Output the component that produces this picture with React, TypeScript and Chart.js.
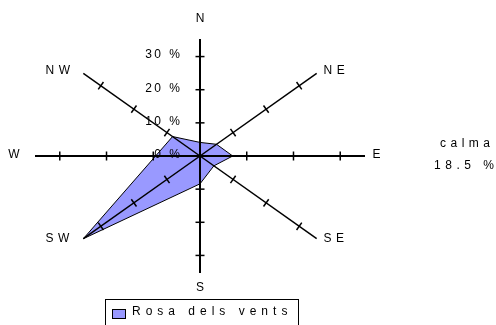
import React, { useEffect, useRef } from "react";
import { Chart, registerables } from "chart.js";

Chart.register(...registerables);

// ---- data ----
const directions = ["N", "NE", "E", "SE", "S", "SW", "W", "NW"];
const windValues = [4.1, 5.0, 7.0, 4.2, 8.4, 35.3, 9.5, 8.3];
const axisMax = 35.3;
const tickValues = [0, 10, 20, 30];
const tickLabels = ["0 %", "10 %", "20 %", "30 %"];
const seriesLabel = "Rosa dels vents";
const calmLabel = "calma";
const calmValue = "18.5 %";

// ---- style ----
const FONT = '12px "Liberation Sans", Arial, sans-serif';
const LS = 4.5;
const FILL = "#9999ff";
const labelOffsets: [number, number][] = [
  [0, -20],
  [17.5, -3],
  [11.5, -1],
  [17, 0],
  [0, 15],
  [-26, 0],
  [-21, -1],
  [-25.5, -3],
];

const angle = (i: number) => (i * Math.PI) / 4;

function drawSpaced(
  ctx: CanvasRenderingContext2D,
  text: string,
  x: number,
  y: number,
  align: "left" | "center" | "right",
  ls: number
) {
  (ctx as any).letterSpacing = ls + "px";
  const w = ctx.measureText(text).width - ls;
  const left = align === "center" ? x - w / 2 : align === "right" ? x - w : x;
  ctx.textAlign = "left";
  ctx.fillText(text, left, y);
  (ctx as any).letterSpacing = "0px";
}

const windPlugin = {
  id: "windRose",
  afterDatasetsDraw(chart: any) {
    const ctx: CanvasRenderingContext2D = chart.ctx;
    const xs = chart.scales.x;
    const ys = chart.scales.y;
    const cx = xs.getPixelForValue(0);
    const cy = ys.getPixelForValue(0);
    ctx.save();
    ctx.strokeStyle = "#000";
    ctx.lineCap = "butt";
    directions.forEach((d, i) => {
      const th = angle(i);
      const ex = xs.getPixelForValue(axisMax * Math.sin(th));
      const ey = ys.getPixelForValue(axisMax * Math.cos(th));
      ctx.lineWidth = i % 2 === 0 ? 2 : 1.5;
      ctx.beginPath();
      ctx.moveTo(cx, cy);
      ctx.lineTo(ex, ey);
      ctx.stroke();
      const dx = ex - cx;
      const dy = ey - cy;
      const len = Math.hypot(dx, dy);
      const px = -dy / len;
      const py = dx / len;
      ctx.lineWidth = 1.5;
      tickValues
        .filter((v) => v > 0)
        .forEach((v) => {
          const tx = xs.getPixelForValue(v * Math.sin(th));
          const ty = ys.getPixelForValue(v * Math.cos(th));
          ctx.beginPath();
          ctx.moveTo(tx - px * 4.5, ty - py * 4.5);
          ctx.lineTo(tx + px * 4.5, ty + py * 4.5);
          ctx.stroke();
        });
      // direction label
      ctx.font = FONT;
      ctx.fillStyle = "#000";
      ctx.textBaseline = "middle";
      drawSpaced(ctx, d, ex + labelOffsets[i][0], ey + labelOffsets[i][1], "center", LS);
    });
    // tick labels along N axis
    ctx.font = FONT;
    ctx.fillStyle = "#000";
    ctx.textBaseline = "middle";
    tickValues.forEach((v, k) => {
      const ty = ys.getPixelForValue(v);
      drawSpaced(ctx, tickLabels[k], cx - 20, ty - 1.5, "right", 2.5);
    });
    // calm text
    drawSpaced(ctx, calmLabel, 465, 144, "center", LS);
    drawSpaced(ctx, calmValue, 464, 165.5, "center", LS);
    // legend
    ctx.lineWidth = 1;
    ctx.strokeStyle = "#000";
    ctx.strokeRect(105.5, 299.5, 193, 40);
    ctx.fillStyle = FILL;
    ctx.fillRect(112, 309.5, 14, 9);
    ctx.strokeRect(112.5, 309.5, 13, 9);
    ctx.fillStyle = "#000";
    drawSpaced(ctx, seriesLabel, 132, 311.5, "left", 5);
    ctx.restore();
  },
};

export default function App() {
  const ref = useRef<HTMLCanvasElement | null>(null);
  useEffect(() => {
    if (!ref.current) return;
    const pts = windValues.map((v, i) => ({
      x: v * Math.sin(angle(i)),
      y: v * Math.cos(angle(i)),
    }));
    pts.push({ ...pts[0] });
    const chart = new Chart(ref.current, {
      type: "scatter",
      data: {
        datasets: [
          {
            label: seriesLabel,
            data: pts,
            showLine: true,
            fill: "shape",
            backgroundColor: FILL,
            borderColor: "#000",
            borderWidth: 1,
            pointRadius: 0,
            tension: 0,
            clip: false,
          } as any,
        ],
      },
      options: {
        animation: false,
        responsive: false,
        events: [],
        layout: { padding: { left: 35, right: 131, top: 39, bottom: 52 } },
        scales: {
          x: { type: "linear", min: -axisMax, max: axisMax, display: false },
          y: { type: "linear", min: -axisMax, max: axisMax, display: false },
        },
        plugins: {
          legend: { display: false },
          tooltip: { enabled: false },
        },
      },
      plugins: [windPlugin],
    });
    return () => chart.destroy();
  }, []);
  return (
    <div
      style={{
        position: "absolute",
        left: 0,
        top: 0,
        width: 496,
        height: 325,
        background: "#fff",
        overflow: "hidden",
      }}
    >
      <canvas ref={ref} width={496} height={325} />
    </div>
  );
}
